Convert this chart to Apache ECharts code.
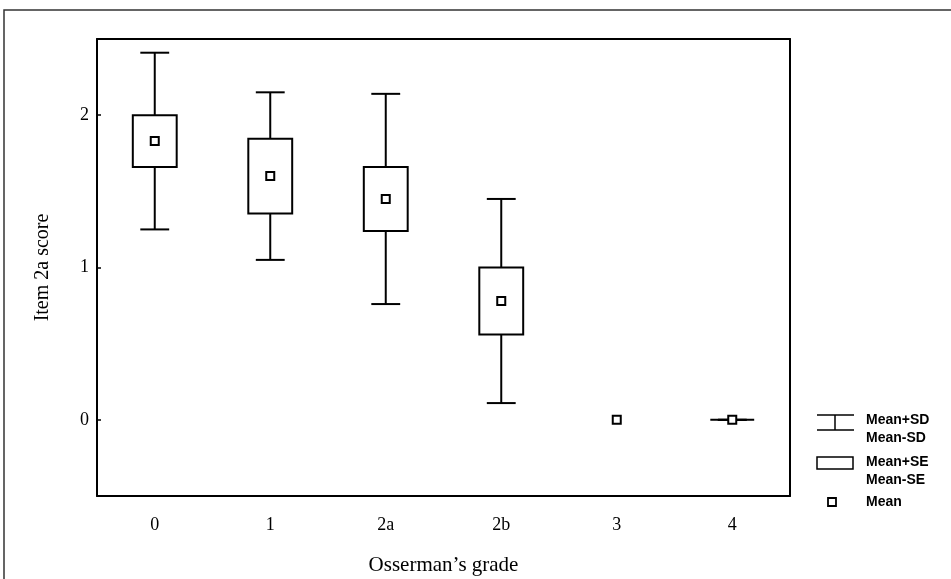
<!DOCTYPE html>
<html>
<head>
<meta charset="utf-8">
<script src="https://cdn.jsdelivr.net/npm/echarts@6/dist/echarts.min.js"></script>
<style>html,body{margin:0;padding:0;background:#fff}#c{width:951px;height:579px}</style>
</head>
<body>
<div id="c"></div>
<script>
// Data
const categories = ['0', '1', '2a', '2b', '3', '4'];
const means = [1.83, 1.6, 1.45, 0.78, 0.0, 0.0];
const seValues = [0.17, 0.245, 0.21, 0.22, null, 0.0];
const sdValues = [0.58, 0.55, 0.69, 0.67, null, 0.0];
const yTicks = [0, 1, 2];

const chart = echarts.init(document.getElementById('c'));
const serif = '"Liberation Serif", "Times New Roman", serif';
const sans = '"Liberation Sans", Arial, sans-serif';

function renderItem(params, api) {
  const i = params.dataIndex;
  const m = api.value(1);
  const se = seValues[i], sd = sdValues[i];
  const band = api.size([1, 0])[0];
  const c = api.coord([api.value(0), m]);
  const x = c[0];
  const children = [];
  const ls = { stroke: '#000', fill: null, lineWidth: 2 };
  if (sd !== null && se !== null) {
    const yT = api.coord([api.value(0), m + sd])[1];
    const yB = api.coord([api.value(0), m - sd])[1];
    const yST = api.coord([api.value(0), m + se])[1];
    const ySB = api.coord([api.value(0), m - se])[1];
    const bw = band * 0.19;
    const cw = band * 0.125;
    children.push({ type: 'line', shape: { x1: x, y1: yT, x2: x, y2: yST }, style: ls });
    children.push({ type: 'line', shape: { x1: x, y1: ySB, x2: x, y2: yB }, style: ls });
    children.push({ type: 'line', shape: { x1: x - cw, y1: yT, x2: x + cw, y2: yT }, style: ls });
    children.push({ type: 'line', shape: { x1: x - cw, y1: yB, x2: x + cw, y2: yB }, style: ls });
    children.push({ type: 'rect', shape: { x: x - bw, y: yST, width: 2 * bw, height: ySB - yST }, style: { stroke: '#000', fill: '#fff', lineWidth: 2 } });
  }
  const s = 8;
  children.push({ type: 'rect', shape: { x: x - s / 2, y: c[1] - s / 2, width: s, height: s }, style: { stroke: '#000', fill: '#fff', lineWidth: 2 } });
  return { type: 'group', children };
}

const legendX = 817;
const legendText = (t, yc) => ({ type: 'text', x: 866, y: yc, style: { text: t, font: 'bold 14px ' + sans, fill: '#000', verticalAlign: 'middle' } });

const option = {
  animation: false,
  backgroundColor: '#fff',
  grid: { left: 97, top: 39, right: 161, bottom: 83, containLabel: false, outerBoundsMode: 'none' },
  xAxis: [{
    type: 'category', data: categories, position: 'bottom',
    axisLine: { onZero: false, lineStyle: { color: '#000', width: 2 } },
    axisTick: { inside: true, length: 4, lineStyle: { color: '#000', width: 1.5 } },
    axisLabel: { color: '#000', fontFamily: serif, fontSize: 18, margin: 20 },
    name: 'Osserman\u2019s grade', nameLocation: 'middle', nameGap: 59,
    nameTextStyle: { color: '#000', fontFamily: serif, fontSize: 21 }
  }, {
    type: 'category', data: categories, position: 'top',
    axisLine: { onZero: false, lineStyle: { color: '#000', width: 2 } },
    axisTick: { inside: true, length: 4, lineStyle: { color: '#000', width: 1.5 } },
    axisLabel: { show: false }
  }],
  yAxis: [{
    type: 'value', min: -0.5, max: 2.5, position: 'left',
    splitLine: { show: false },
    axisLine: { show: true, onZero: false, lineStyle: { color: '#000', width: 2 } },
    axisTick: { show: true, inside: true, length: 4, customValues: yTicks, lineStyle: { color: '#000', width: 1.5 } },
    axisLabel: { color: '#000', fontFamily: serif, fontSize: 18, margin: 8, customValues: yTicks },
    name: 'Item 2a score', nameLocation: 'middle', nameGap: 44,
    nameTextStyle: { color: '#000', fontFamily: serif, fontSize: 20 }
  }, {
    type: 'value', min: -0.5, max: 2.5, position: 'right',
    splitLine: { show: false },
    axisLine: { show: true, onZero: false, lineStyle: { color: '#000', width: 2 } },
    axisTick: { show: false }, axisLabel: { show: false }
  }],
  series: [{
    type: 'custom',
    xAxisIndex: 0, yAxisIndex: 0,
    renderItem: renderItem,
    data: means.map((m, i) => [i, m]),
    clip: false
  }],
  graphic: [
    { type: 'rect', shape: { x: 4, y: 10, width: 1000, height: 700 }, style: { stroke: '#333', fill: null, lineWidth: 1.5 }, silent: true },
    // legend: SD symbol
    { type: 'line', shape: { x1: legendX, y1: 415, x2: legendX + 37, y2: 415 }, style: { stroke: '#000', lineWidth: 1.5 } },
    { type: 'line', shape: { x1: legendX + 18, y1: 415, x2: legendX + 18, y2: 430 }, style: { stroke: '#000', lineWidth: 1.5 } },
    { type: 'line', shape: { x1: legendX, y1: 430, x2: legendX + 37, y2: 430 }, style: { stroke: '#000', lineWidth: 1.5 } },
    legendText('Mean+SD', 420),
    legendText('Mean-SD', 438),
    // SE symbol
    { type: 'rect', shape: { x: legendX, y: 457, width: 36, height: 12 }, style: { stroke: '#000', fill: '#fff', lineWidth: 1.5 } },
    legendText('Mean+SE', 462),
    legendText('Mean-SE', 480),
    // Mean symbol
    { type: 'rect', shape: { x: 828, y: 498, width: 8, height: 8 }, style: { stroke: '#000', fill: '#fff', lineWidth: 1.8 } },
    legendText('Mean', 502)
  ]
};
chart.setOption(option);
</script>
</body>
</html>
